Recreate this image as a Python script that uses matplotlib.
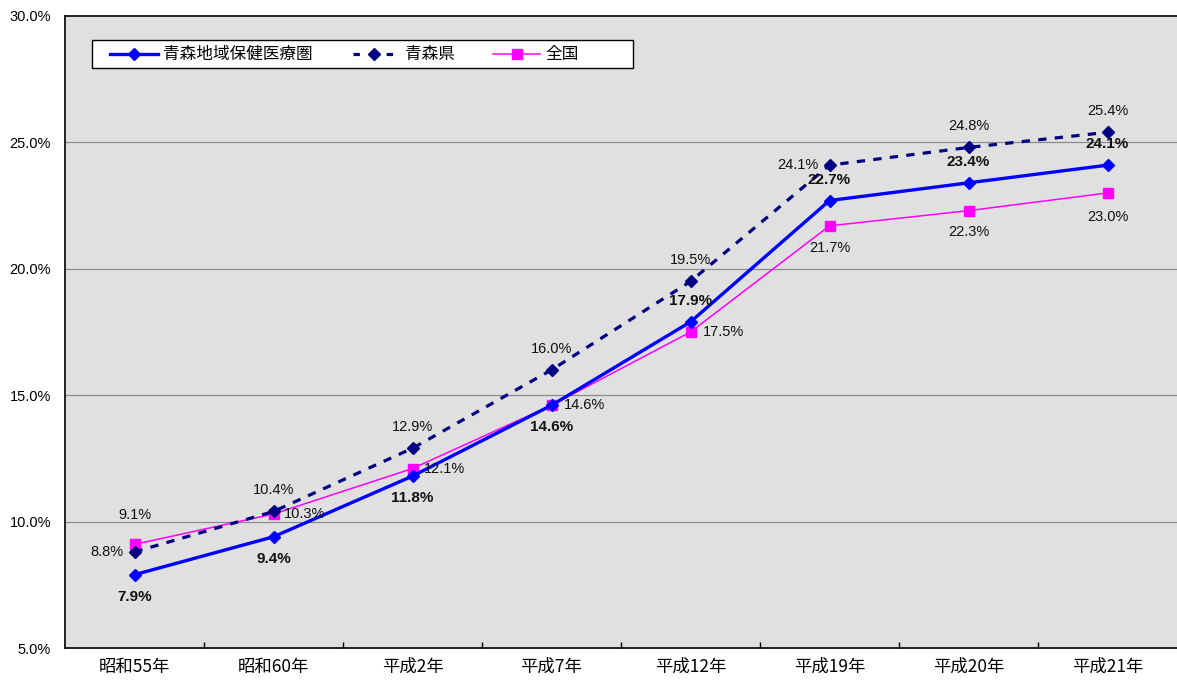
import matplotlib
matplotlib.use("Agg")
import matplotlib.pyplot as plt
from matplotlib.lines import Line2D
from matplotlib.patches import Rectangle

plt.rcParams['font.family'] = ['Noto Sans CJK JP', 'DejaVu Sans']

categories = ["昭和55年", "昭和60年", "平成2年", "平成7年", "平成12年", "平成19年", "平成20年", "平成21年"]
region = [7.9, 9.4, 11.8, 14.6, 17.9, 22.7, 23.4, 24.1]
pref = [8.8, 10.4, 12.9, 16.0, 19.5, 24.1, 24.8, 25.4]
nation = [9.1, 10.3, 12.1, 14.6, 17.5, 21.7, 22.3, 23.0]
series_names = ["青森地域保健医療圏", "青森県", "全国"]
yticks = [5, 10, 15, 20, 25, 30]

W, H = 1177, 681
fig = plt.figure(figsize=(W / 100, H / 100), dpi=100)
ax = fig.add_axes([65 / W, 33 / H, 1 - 65 / W, (648 - 16) / H])
ax.set_facecolor('#e0e0e0')

x = list(range(len(categories)))
ax.set_xlim(-0.5, len(categories) - 0.5)
ax.set_ylim(5, 30)

for v in yticks[1:-1]:
    ax.axhline(v, color='#8c8c8c', lw=0.9, zorder=1)

styles = [
    dict(color='#0000ff', lw=2.4, marker='D', ms=6),
    dict(color='#000080', lw=2.3, dashes=(2.6, 2.6), marker='D', ms=6),
    dict(color='#ff00ff', lw=1.1, marker='s', ms=7),
]
ax.plot(x, nation, zorder=3, **styles[2])
ax.plot(x, pref, zorder=4, **styles[1])
ax.plot(x, region, zorder=5, **styles[0])

px = 0.72  # points per pixel
lab_font = dict(family=['Liberation Sans', 'DejaVu Sans'], color='#111111')

# region labels (bold)
for i, v in enumerate(region):
    dy = -22 if i < 4 else 21
    ax.annotate(f"{v:.1f}%", (x[i], v), xytext=(0, dy * px), textcoords='offset points',
                ha='center', va='center', fontweight='bold', fontsize=11, zorder=6, **lab_font)

# prefecture labels
pref_off = [(-11, 0, 'right'), (0, 21, 'center'), (0, 21, 'center'), (0, 21, 'center'),
            (0, 21, 'center'), (-11, 0, 'right'), (0, 21, 'center'), (0, 21, 'center')]
for i, v in enumerate(pref):
    dx, dy, ha = pref_off[i]
    ax.annotate(f"{v:.1f}%", (x[i], v), xytext=(dx * px, dy * px), textcoords='offset points',
                ha=ha, va='center', fontsize=10.5, zorder=6, **lab_font)

# nation labels
nat_off = [(0, 29, 'center'), (10, 0, 'left'), (11, 0, 'left'), (12, 0, 'left'),
           (12, 0, 'left'), (0, -22, 'center'), (0, -21, 'center'), (0, -24, 'center')]
for i, v in enumerate(nation):
    dx, dy, ha = nat_off[i]
    ax.annotate(f"{v:.1f}%", (x[i], v), xytext=(dx * px, dy * px), textcoords='offset points',
                ha=ha, va='center', fontsize=10.5, zorder=6, **lab_font)

# axes styling
ax.set_yticks(yticks)
ax.set_yticklabels([f"{v:.1f}%" for v in yticks], family=['Liberation Sans', 'DejaVu Sans'],
                   fontsize=10.5)
ax.tick_params(axis='y', length=0, pad=10)
ax.set_xticks(x)
ax.set_xticklabels(categories, fontsize=12.5)
ax.tick_params(axis='x', length=0, pad=7)
ax.set_xticks([i + 0.5 for i in x[:-1]], minor=True)
ax.tick_params(axis='x', which='minor', direction='in', length=4, width=1, color='black')
for s in ['left', 'bottom', 'top']:
    ax.spines[s].set_color('black')
    ax.spines[s].set_linewidth(1.2)
ax.spines['right'].set_visible(False)

# legend box (drawn in figure pixel layout, like the spreadsheet original)
def fx(p):
    return p / W

def fy(p):
    return 1 - p / H

fig.add_artist(Rectangle((fx(92), fy(68)), fx(633) - fx(92), fy(40) - fy(68),
                         transform=fig.transFigure, facecolor='white', edgecolor='black',
                         lw=1.0, zorder=10))
leg_y = 54
handle_spans = [(110, 158), (353, 394), (493, 540)]
text_x = [163, 405, 545]
for (x0, x1), tx, st, name in zip(handle_spans, text_x, styles, series_names):
    line_kw = {k: v for k, v in st.items() if k not in ('marker', 'ms')}
    if 'dashes' in line_kw:
        line_kw['dashes'] = (2.0, 3.2)
    fig.add_artist(Line2D([fx(x0), fx(x1)], [fy(leg_y), fy(leg_y)], transform=fig.transFigure,
                          zorder=11, **line_kw))
    fig.add_artist(Line2D([fx((x0 + x1) / 2)], [fy(leg_y)], transform=fig.transFigure,
                          marker=st['marker'], ms=st['ms'], color=st['color'], lw=0, zorder=12))
    fig.text(fx(tx), fy(leg_y), name, fontsize=12, ha='left', va='center', zorder=12)

fig.savefig('out.png', dpi=100)
